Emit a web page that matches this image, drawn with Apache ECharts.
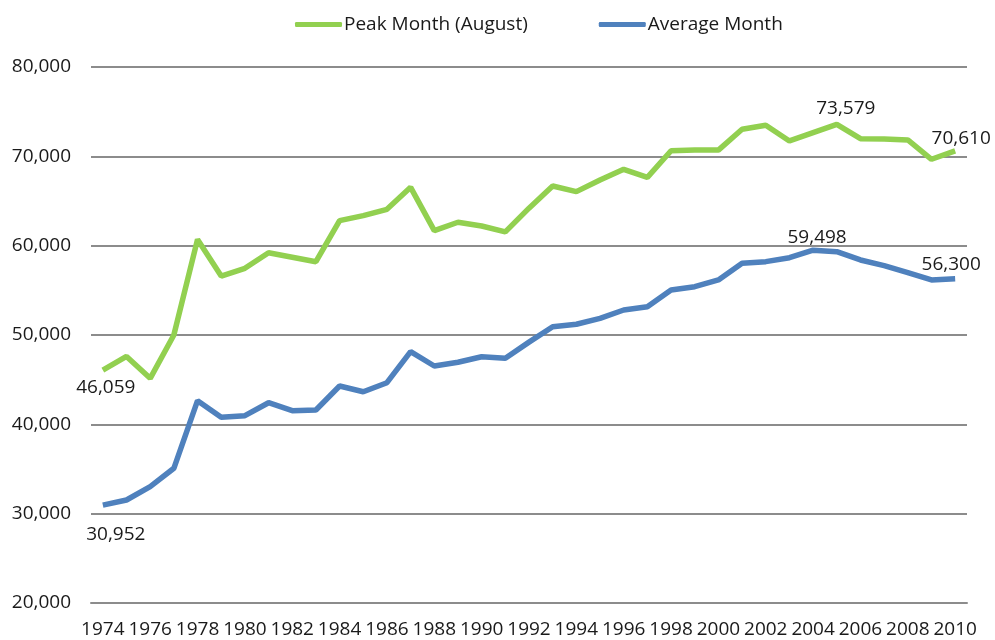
<!DOCTYPE html>
<html>
<head>
<meta charset="utf-8">
<script src="https://cdn.jsdelivr.net/npm/echarts@6/dist/echarts.min.js"></script>
<style>
  html, body { margin: 0; padding: 0; background: #fff; }
  #chart { width: 995px; height: 640px; }
</style>
</head>
<body>
<div id="chart"></div>
<script>
// years 1974..2010
const years = [];
for (let y = 1974; y <= 2010; y++) years.push(String(y));

const peakMonth = [46059, 47600, 45150, 50000, 60700, 56600, 57470, 59200, 58700, 58200,
  62800, 63360, 64070, 66530, 61680, 62620, 62200, 61550, 64200, 66680,
  66050, 67350, 68550, 67650, 70630, 70710, 70700, 73030, 73480, 71720,
  72650, 73579, 71980, 71950, 71830, 69670, 70610];

const averageMonth = [30952, 31530, 33020, 35080, 42650, 40790, 40970, 42420, 41530, 41600,
  44290, 43650, 44660, 48130, 46530, 46950, 47570, 47400, 49200, 50930,
  51200, 51870, 52800, 53170, 55040, 55410, 56160, 58030, 58210, 58650,
  59498, 59330, 58400, 57760, 56980, 56160, 56300];

// which points carry a value label, and where it sits
const peakLabels = { 0: ['bottom', [3, 2]], 31: ['top', [9, 0]], 36: ['top', [6, 3]] };
const avgLabels = { 0: ['bottom', [13, 14]], 30: ['top', [4, 3]], 36: ['top', [-4, 1]] };

const font = 'Open Sans';
const fs = 19;

function withLabels(values, labels) {
  return values.map((v, i) => {
    if (!labels[i]) return v;
    return {
      value: v,
      label: {
        show: true,
        position: labels[i][0],
        offset: labels[i][1],
        distance: 6,
        formatter: (p) => p.value.toLocaleString('en-US'),
        color: '#1a1a1a',
        fontSize: fs,
        fontFamily: font
      }
    };
  });
}

function lineSeries(name, values, labels, color) {
  return {
    name: name,
    type: 'line',
    data: withLabels(values, labels),
    symbol: 'circle',
    symbolSize: 0,
    showSymbol: true,
    showAllSymbol: true,
    color: color,
    itemStyle: { color: color },
    lineStyle: { width: 5.5, color: color },
    emphasis: { disabled: true }
  };
}

const chart = echarts.init(document.getElementById('chart'));
chart.setOption({
  animation: false,
  legend: {
    top: 15,
    left: 295,
    padding: 0,
    itemGap: 71,
    itemWidth: 47,
    itemHeight: 5,
    icon: 'roundRect',
    textStyle: { fontSize: fs, fontFamily: font, color: '#1a1a1a', padding: [0, 0, 0, -3] },
    data: ['Peak Month (August)', 'Average Month']
  },
  grid: { left: 91, right: 28, top: 67, bottom: 37 },
  xAxis: {
    type: 'category',
    data: years,
    boundaryGap: true,
    axisLine: { lineStyle: { color: '#8c8c8c', width: 2 } },
    axisTick: { interval: 0, length: 6, lineStyle: { color: '#8c8c8c', width: 2 } },
    axisLabel: { interval: 1, margin: 17, fontSize: fs, fontFamily: font, color: '#1a1a1a' }
  },
  yAxis: {
    type: 'value',
    min: 20000,
    max: 80000,
    interval: 10000,
    axisLine: { show: false },
    axisTick: { show: false },
    splitLine: { lineStyle: { color: '#8c8c8c', width: 2 } },
    axisLabel: {
      margin: 20,
      fontSize: fs,
      fontFamily: font,
      color: '#1a1a1a',
      formatter: (v) => v.toLocaleString('en-US')
    }
  },
  series: [
    lineSeries('Peak Month (August)', peakMonth, peakLabels, '#92d050'),
    lineSeries('Average Month', averageMonth, avgLabels, '#4f81bd')
  ]
});
</script>
</body>
</html>
